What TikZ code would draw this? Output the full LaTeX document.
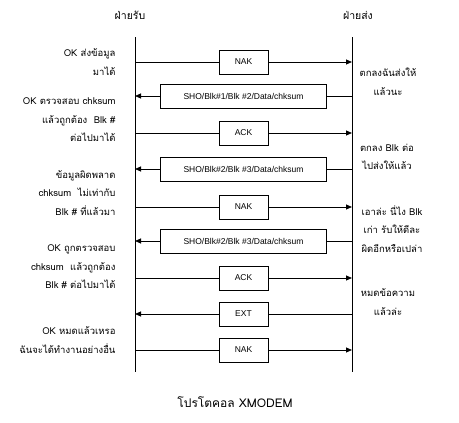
\documentclass[tikz,border=0pt]{standalone}
\usepackage{fontspec}
\setmainfont{Liberation Serif}
\newfontfamily\thaifont[Script=Thai]{Loma}
\newfontfamily\boxfont{Liberation Sans}
\usetikzlibrary{arrows.meta}

\begin{document}
\begin{tikzpicture}[x=1pt,y=-1pt,
	every node/.style={font=\thaifont\fontsize{9.5}{18.5}\selectfont},
	lifeline/.style={line width=0.8pt},
	msg/.style={line width=0.8pt,-{Triangle[length=6pt,width=5pt]}},
	pkt/.style={draw,line width=0.8pt,fill=white,font=\boxfont\fontsize{8.5}{10}\selectfont,
		minimum width=49pt,minimum height=24pt,inner sep=0pt},
	longpkt/.style={pkt,minimum width=166pt},
	side/.style={font=\thaifont\fontsize{10.5}{12}\selectfont}]
	\useasboundingbox (0,0) rectangle (459,423);
	% the two sides
	\node[side] (rx) at (130,15) {ฝ่ายรับ};
	\node[side] (tx) at (358,15) {ฝ่ายส่ง};
	\coordinate (rxtop) at (135,37);
	\coordinate (rxbot) at (135,372);
	\coordinate (txtop) at (352,37);
	\coordinate (txbot) at (352,372);
	\draw[lifeline] (rxtop) -- (rxbot);
	\draw[lifeline] (txtop) -- (txbot);
	% message levels
	\foreach \i/\y in {1/62,2/96,3/133,4/169,5/207,6/241,7/278,8/314,9/350} {
		\coordinate (l\i) at (135,\y);
		\coordinate (r\i) at (352,\y);
	}
	\draw[msg] (l1) -- node[pkt] (nak1) {NAK} (r1);
	\draw[msg] (r2) -- node[longpkt] (blk1) {SHO/Blk\#1/Blk \#2/Data/chksum} (l2);
	\draw[msg] (l3) -- node[pkt] (ack1) {ACK} (r3);
	\draw[msg] (r4) -- node[longpkt] (blk2) {SHO/Blk\#2/Blk \#3/Data/chksum} (l4);
	\draw[msg] (l5) -- node[pkt] (nak2) {NAK} (r5);
	\draw[msg] (r6) -- node[longpkt] (blk3) {SHO/Blk\#2/Blk \#3/Data/chksum} (l6);
	\draw[msg] (l7) -- node[pkt] (ack2) {ACK} (r7);
	\draw[msg] (r8) -- node[pkt] (ext) {EXT} (l8);
	\draw[msg] (l9) -- node[pkt] (nak3) {NAK} (r9);
	% receiver remarks
	\node[anchor=east,align=right] (rnote1) at (119,62) {OK ส่งข้อมูล\\มาได้};
	\node[anchor=east,align=right] (rnote2) at (119,120) {OK ตรวจสอบ chksum\\แล้วถูกต้อง~ Blk \#\\ต่อไปมาได้};
	\node[anchor=east,align=right] (rnote3) at (119,193) {ข้อมูลผิดพลาด\\chksum~ ไม่เท่ากับ\\Blk \# ที่แล้วมา};
	\node[anchor=east,align=right] (rnote4) at (119,267) {OK ถูกตรวจสอบ\\chksum~ แล้วถูกต้อง\\Blk \# ต่อไปมาได้};
	\node[anchor=east,align=right] (rnote5) at (119,340) {OK หมดแล้วเหรอ\\ฉันจะได้ทำงานอย่างอื่น};
	% sender remarks
	\node[align=center] (tnote1) at (388,82) {ตกลงฉันส่งให้\\แล้วนะ};
	\node[align=center] (tnote2) at (387,157) {ตกลง Blk ต่อ\\ไปส่งให้แล้ว};
	\node[align=center] (tnote3) at (392,229) {เอาล่ะ นี่ไง Blk\\เก่า รับให้ดีละ\\ผิดอีกหรือเปล่า};
	\node[align=center] (tnote4) at (388,302) {หมดข้อความ\\แล้วล่ะ};
	\node[font=\thaifont\fontsize{12}{14}\selectfont] (caption) at (235,402) {โปรโตคอล XMODEM};
\end{tikzpicture}
\end{document}
